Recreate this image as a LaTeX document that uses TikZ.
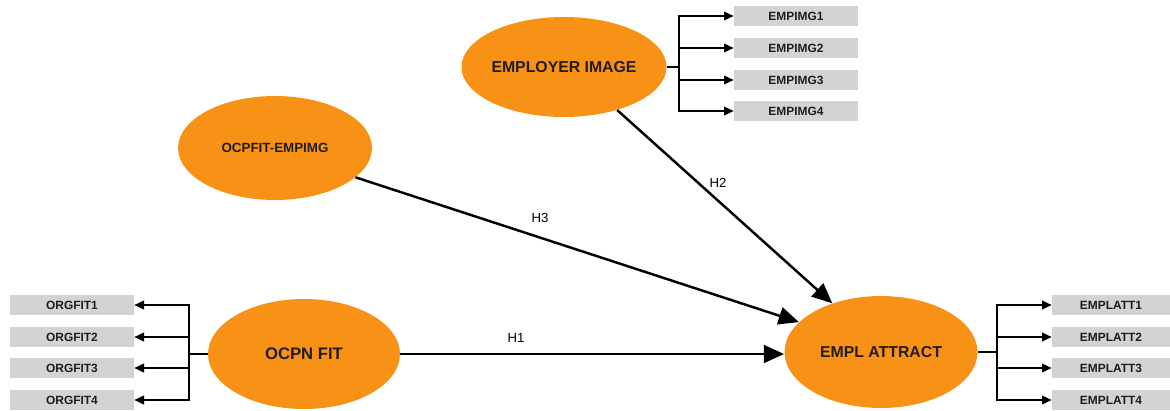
\documentclass[tikz,border=0pt]{standalone}
\usepackage{fontspec}
\setmainfont{Liberation Sans}
\usetikzlibrary{shapes.geometric,arrows.meta}
\definecolor{lvorange}{RGB}{248,146,22}
\definecolor{mvgray}{RGB}{210,212,212}
\definecolor{txt}{RGB}{35,28,22}
\tikzset{
  latent/.style={ellipse,fill=lvorange,draw=none,inner sep=0pt,text=txt,font=\bfseries\fontsize{9}{10}\selectfont},
  indic/.style={rectangle,fill=mvgray,draw=none,inner sep=0pt,minimum width=2.48cm,minimum height=0.4cm,text=txt,font=\bfseries\fontsize{6.8}{7}\selectfont},
  bigarrow/.style={line width=1.4pt,-{Triangle[length=11.5pt,width=10pt]}},
  smallarrow/.style={line width=0.8pt,-{Triangle[length=5.5pt,width=5pt]}},
  plainline/.style={line width=0.8pt},
  hlabel/.style={font=\fontsize{7.5}{8}\selectfont,text=black,inner sep=1pt}
}
\begin{document}
\begin{tikzpicture}[x=0.02cm,y=-0.02cm]
\useasboundingbox[fill=white] (0,0) rectangle (1170,410);
% latent variables
\node[latent,minimum width=3.84cm,minimum height=2.0cm] (ei) at (564,67) {EMPLOYER IMAGE};
\node[latent,minimum width=3.88cm,minimum height=2.08cm,font=\bfseries\fontsize{7.6}{8}\selectfont] (oe) at (275,148) {OCPFIT-EMPIMG};
\node[latent,minimum width=3.84cm,minimum height=2.2cm,font=\bfseries\fontsize{9.5}{10}\selectfont] (of) at (304,354) {OCPN FIT};
\node[latent,minimum width=3.86cm,minimum height=2.24cm] (ea) at (881,352) {EMPL ATTRACT};
% indicators
\node[indic] (i1) at (796,16) {EMPIMG1};
\node[indic] (i2) at (796,48) {EMPIMG2};
\node[indic] (i3) at (796,80) {EMPIMG3};
\node[indic] (i4) at (796,111) {EMPIMG4};
\node[indic] (o1) at (72,305) {ORGFIT1};
\node[indic] (o2) at (72,337) {ORGFIT2};
\node[indic] (o3) at (72,368) {ORGFIT3};
\node[indic] (o4) at (72,400) {ORGFIT4};
\node[indic,minimum width=2.36cm] (a1) at (1111,305) {EMPLATT1};
\node[indic,minimum width=2.36cm] (a2) at (1111,337) {EMPLATT2};
\node[indic,minimum width=2.36cm] (a3) at (1111,368) {EMPLATT3};
\node[indic,minimum width=2.36cm] (a4) at (1111,400) {EMPLATT4};
% junctions
\coordinate (jA) at (679,67);
\coordinate (jB) at (189,354);
\coordinate (jC) at (997,352);
\draw[plainline] (ei.east) -- (jA);
\foreach \b in {i1,i2,i3,i4} \draw[smallarrow] (jA) |- (\b.west);
\draw[plainline] (of.west) -- (jB);
\foreach \b in {o1,o2,o3,o4} \draw[smallarrow] (jB) |- (\b.east);
\draw[plainline] (ea.east) -- (jC);
\foreach \b in {a1,a2,a3,a4} \draw[smallarrow] (jC) |- (\b.west);
% paths
\draw[bigarrow] (of.east) -- (ea.west |- of.east);
\draw[bigarrow] (oe.-20) -- (ea.160);
\draw[bigarrow] (ei.-39) -- (ea.135);
\node[hlabel] (h1) at (516,338) {H1};
\node[hlabel] (h2) at (718,183) {H2};
\node[hlabel] (h3) at (540,218) {H3};
\end{tikzpicture}
\end{document}
